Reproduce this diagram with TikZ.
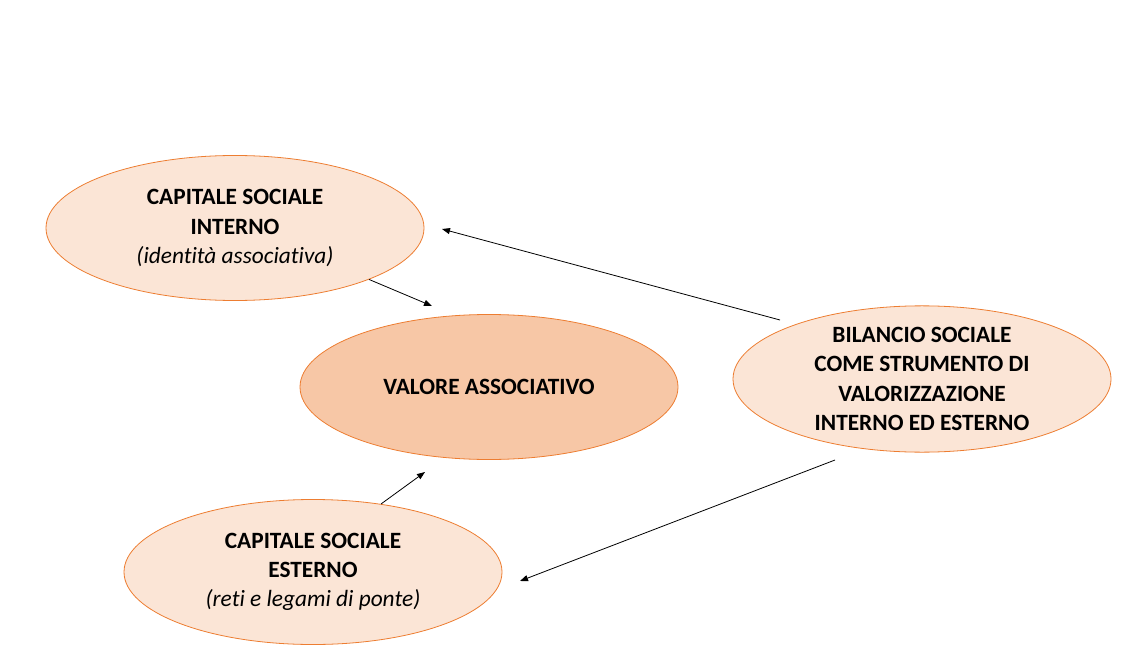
\documentclass[tikz,border=0pt]{standalone}
\usepackage{fontspec}
\setmainfont{Carlito}[Ligatures=NoCommon]
\usetikzlibrary{shapes.geometric,arrows.meta}
\definecolor{peach}{HTML}{FBE5D6}
\definecolor{peachdark}{HTML}{F7C7A6}
\definecolor{rim}{HTML}{ED7D31}
\tikzset{
  bubble/.style={ellipse, draw=rim, line width=0.6pt, fill=peach,
    minimum width=283.5pt, minimum height=108.75pt, inner sep=0pt,
    align=center, font=\fontsize{17.5}{22}\selectfont\bfseries},
  link/.style={-{Triangle[length=6pt,width=4.5pt]}, line width=0.6pt}
}
\begin{document}
\begin{tikzpicture}[x=0.75pt,y=-0.75pt]
  \useasboundingbox (0,0) rectangle (1137,659);
  \node[bubble] (Interno) at (235,228) {CAPITALE SOCIALE\\INTERNO\\{\mdseries\itshape (identità associativa)}};
  \node[bubble, fill=peachdark] (Valore) at (489,387) {VALORE ASSOCIATIVO};
  \node[bubble] (Bilancio) at (922,379) {BILANCIO SOCIALE\\COME STRUMENTO DI\\VALORIZZAZIONE\\INTERNO ED ESTERNO};
  \node[bubble] (Esterno) at (313,572) {CAPITALE SOCIALE\\ESTERNO\\{\mdseries\itshape (reti e legami di ponte)}};

  \coordinate (InternoTip) at (432,306);
  \coordinate (EsternoTip) at (425,472);
  \coordinate (BilancioUp) at (780,320);
  \coordinate (BilancioDown) at (835,460);
  \coordinate (InternoIn) at (442,229);
  \coordinate (EsternoIn) at (520,581);

  \draw[link] (Interno.-21) -- (InternoTip);
  \draw[link] (Esterno.45) -- (EsternoTip);
  \draw[link] (BilancioUp) -- (InternoIn);
  \draw[link] (BilancioDown) -- (EsternoIn);
\end{tikzpicture}
\end{document}
